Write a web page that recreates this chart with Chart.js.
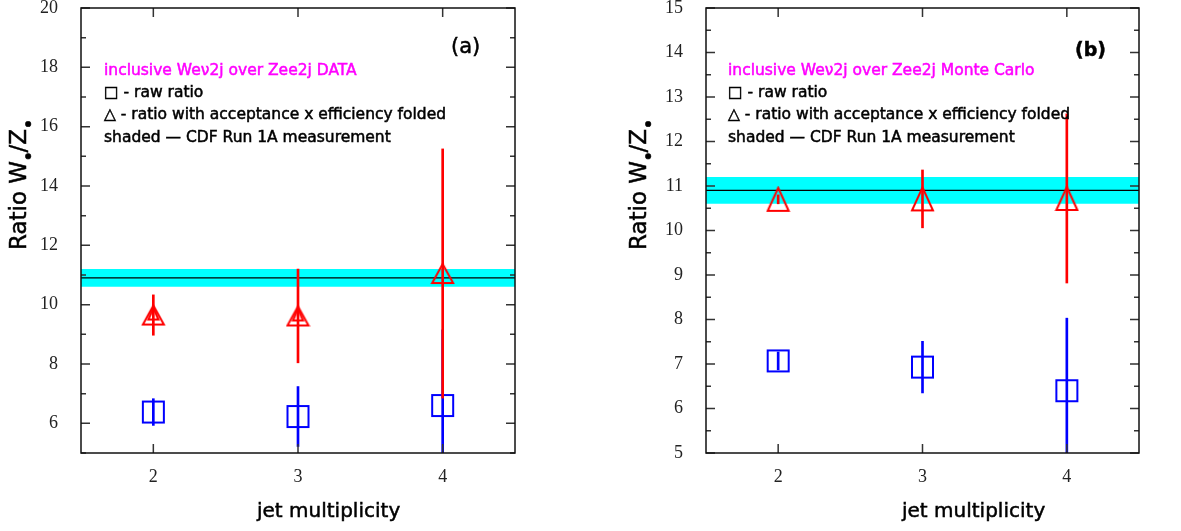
<!DOCTYPE html>
<html lang="en">
<head>
<meta charset="UTF-8" />
<title>W/Z ratio vs jet multiplicity</title>
<style>
  body { margin: 0; background: #fff; }
  .panel { position: absolute; top: 0; height: 531px; }
  #pa { left: 0; width: 590px; }
  #pb { left: 600px; width: 581px; }
</style>
</head>
<body>
<div class="panel" id="pa"><canvas id="chartA"></canvas></div>
<div class="panel" id="pb"><canvas id="chartB"></canvas></div>

<script src="https://cdn.jsdelivr.net/npm/chart.js"></script>
<script>
// jet multiplicity bins
const jets = [2, 3, 4];

// (a) DATA
const rawA = [6.38, 6.23, 6.6];
const rawErrA = [0.45, 1.01, 2.55];
const accA = [9.65, 9.62, 11.05];
const accErrA = [0.68, 1.58, 4.2];

// (b) Monte Carlo
const rawB = [7.07, 6.93, 6.4];
const rawErrB = [0.2, 0.58, 1.63];
const accB = [10.7, 10.71, 10.72];
const accErrB = [0.1, 0.65, 1.9];

// CDF Run 1A measurement: low, central, high
const cdfBand = [10.6, 10.9, 11.2];

// axis ticks
const yTicksA = [6, 8, 10, 12, 14, 16, 18, 20];
const yMinorA = [5, 7, 9, 11, 13, 15, 17, 19];
const yTicksB = [5, 6, 7, 8, 9, 10, 11, 12, 13, 14, 15];
const yMinorB = [5.5, 6.5, 7.5, 8.5, 9.5, 10.5, 11.5, 12.5, 13.5, 14.5];

const SANS = "'DejaVu Sans', sans-serif";
const RED = '#ff0000', BLUE = '#0000ff';

function pts(xs, ys) { return xs.map((x, i) => ({ x, y: ys[i] })); }
function errs(xs, ys, es) { return xs.map((x, i) => ({ x, y: [ys[i] - es[i], ys[i] + es[i]] })); }

// hollow markers, centred on their bounding box
function triMarker(color, w, h, inner) {
  const c = document.createElement('canvas');
  c.width = w + 4; c.height = h + 4;
  const g = c.getContext('2d');
  g.strokeStyle = color; g.lineWidth = 2;
  const tri = (cx, top, ww, hh) => {
    g.beginPath(); g.moveTo(cx, top); g.lineTo(cx + ww / 2, top + hh); g.lineTo(cx - ww / 2, top + hh);
    g.closePath(); g.stroke();
  };
  tri(c.width / 2, 2, w, h);
  if (inner) tri(c.width / 2, 4.5, 10, 11.5);
  return c;
}
function sqMarker(color, w, h) {
  const c = document.createElement('canvas');
  c.width = w + 4; c.height = h + 4;
  const g = c.getContext('2d');
  g.strokeStyle = color; g.lineWidth = 2;
  g.strokeRect(2, 2, w, h);
  return c;
}

// slightly heavier text, like the original plotting font
function heavyText(ctx, t, x, y) {
  ctx.fillText(t, x, y);
  ctx.strokeText(t, x, y);
}

function richText(ctx, parts, x, y, size) {
  parts.forEach(p => {
    ctx.font = (p.sub ? size * 0.85 : size) + 'px ' + SANS;
    heavyText(ctx, p.t, x - (p.sub ? 1 : 0), y + (p.sub ? size * 0.4 : 0));
    x += ctx.measureText(p.t).width - (p.sub ? 3 : 0);
  });
}

const framePlugin = {
  id: 'frame',
  afterDatasetsDraw(chart, args, o) {
    const { ctx, chartArea: a, scales: { x, y } } = chart;
    ctx.save();
    ctx.strokeStyle = '#333'; ctx.lineWidth = 1.5;
    ctx.beginPath();
    o.major.forEach(v => {
      const py = y.getPixelForValue(v);
      ctx.moveTo(a.left, py); ctx.lineTo(a.left + 9, py);
      ctx.moveTo(a.right, py); ctx.lineTo(a.right - 9, py);
    });
    o.minor.forEach(v => {
      const py = y.getPixelForValue(v);
      ctx.moveTo(a.left, py); ctx.lineTo(a.left + 5, py);
      ctx.moveTo(a.right, py); ctx.lineTo(a.right - 5, py);
    });
    jets.forEach(v => {
      const px = x.getPixelForValue(v);
      ctx.moveTo(px, a.top); ctx.lineTo(px, a.top + 9);
      ctx.moveTo(px, a.bottom); ctx.lineTo(px, a.bottom - 9);
    });
    ctx.stroke();
    ctx.strokeStyle = '#111';
    ctx.strokeRect(a.left, a.top, a.right - a.left, a.bottom - a.top);
    ctx.restore();
  },
  afterDraw(chart, args, o) {
    const ctx = chart.ctx;
    ctx.save();
    ctx.textBaseline = 'alphabetic';
    ctx.lineWidth = 0.5;
    ctx.fillStyle = ctx.strokeStyle = '#ff00ff';
    ctx.font = '15.5px ' + SANS;
    heavyText(ctx, o.title, o.tx, 75);
    ctx.fillStyle = ctx.strokeStyle = '#000';
    heavyText(ctx, '\u25A1 - raw ratio', o.tx, 97);
    heavyText(ctx, '\u25B3 - ratio with acceptance x efficiency folded', o.tx, 119);
    heavyText(ctx, 'shaded \u2014 CDF Run 1A measurement', o.tx, 142);
    ctx.font = o.tagFont;
    heavyText(ctx, o.tag, o.tagX, o.tagY);
    ctx.font = '20px ' + SANS;
    heavyText(ctx, 'jet multiplicity', o.xlX, 517);
    ctx.translate(o.ylX, 250);
    ctx.rotate(-Math.PI / 2);
    richText(ctx, [{ t: 'Ratio W' }, { t: '\u2022', sub: true }, { t: '/Z' }, { t: '\u2022', sub: true }], 0, 0, 23);
    ctx.restore();
  }
};

function makePanel(id, p) {
  const tickFont = { family: "'Liberation Serif', 'DejaVu Serif', serif", size: 18 };
  new Chart(document.getElementById(id), {
    type: 'scatter',
    data: {
      datasets: [
        { type: 'line', data: pts([1.5, 4.5], [cdfBand[2], cdfBand[2]]), showLine: true, borderWidth: 0,
          pointRadius: 0, backgroundColor: '#00ffff', fill: '+1', order: 9 },
        { type: 'line', data: pts([1.5, 4.5], [cdfBand[0], cdfBand[0]]), showLine: true, borderWidth: 0,
          pointRadius: 0, fill: false, order: 8 },
        { type: 'line', data: pts([1.5, 4.5], [cdfBand[1], cdfBand[1]]), showLine: true, borderWidth: 1.2,
          borderColor: '#000', pointRadius: 0, fill: false, order: 7 },
        { data: pts(jets, p.acc), pointStyle: p.triStyle, pointRadius: 10, order: 3 },
        { data: pts(jets, p.raw), pointStyle: p.sqStyle, pointRadius: 10, order: 3 },
        { type: 'bar', data: errs(jets, p.acc, p.accErr), backgroundColor: RED, barThickness: 2,
          grouped: false, borderWidth: 0, order: 1 },
        { type: 'bar', data: errs(jets, p.raw, p.rawErr), backgroundColor: BLUE, barThickness: 2,
          grouped: false, borderWidth: 0, order: 1 }
      ]
    },
    options: {
      animation: false,
      responsive: true,
      maintainAspectRatio: false,
      events: [],
      layout: { padding: { top: 8, right: p.padRight, left: 0, bottom: 0 }, autoPadding: false },
      plugins: { legend: { display: false }, tooltip: { enabled: false }, frame: p.notes },
      scales: {
        x: {
          type: 'linear', min: 1.5, max: 4.5, offset: false,
          grid: { display: false, offset: false, drawTicks: false }, border: { display: false },
          afterBuildTicks: s => { s.ticks = jets.map(v => ({ value: v })); },
          afterFit: s => { s.height = 78; s.paddingLeft = 0; s.paddingRight = 0; },
          ticks: { font: tickFont, color: '#222', padding: 13, maxRotation: 0 }
        },
        y: {
          type: 'linear', min: p.yMin, max: p.yMax, beginAtZero: false,
          grid: { display: false, drawTicks: false }, border: { display: false },
          afterBuildTicks: s => { s.ticks = p.yTicks.map(v => ({ value: v })); },
          afterFit: s => { s.width = p.yWidth; s.paddingTop = 0; s.paddingBottom = 0; },
          ticks: { font: tickFont, color: '#222', padding: 23 }
        }
      }
    },
    plugins: [framePlugin]
  });
}

makePanel('chartA', {
  raw: rawA, rawErr: rawErrA, acc: accA, accErr: accErrA,
  yMin: 5, yMax: 20, yTicks: yTicksA, yWidth: 81, padRight: 75,
  triStyle: [triMarker(RED, 21, 19, true), triMarker(RED, 21, 19, true), triMarker(RED, 21, 19, false)],
  sqStyle: sqMarker(BLUE, 21, 21),
  notes: { major: yTicksA, minor: yMinorA, title: 'inclusive We\u03BD2j over Zee2j DATA', tx: 104,
    tag: '(a)', tagFont: '21px ' + SANS, tagX: 451, tagY: 53, xlX: 257, ylX: 26 }
});

makePanel('chartB', {
  raw: rawB, rawErr: rawErrB, acc: accB, accErr: accErrB,
  yMin: 5, yMax: 15, yTicks: yTicksB, yWidth: 106, padRight: 42,
  triStyle: triMarker(RED, 21, 23, false),
  sqStyle: sqMarker(BLUE, 21, 21),
  notes: { major: yTicksB, minor: yMinorB, title: 'inclusive We\u03BD2j over Zee2j Monte Carlo', tx: 128,
    tag: '(b)', tagFont: 'bold 19px ' + SANS, tagX: 475, tagY: 56, xlX: 302, ylX: 46 }
});
</script>
</body>
</html>
